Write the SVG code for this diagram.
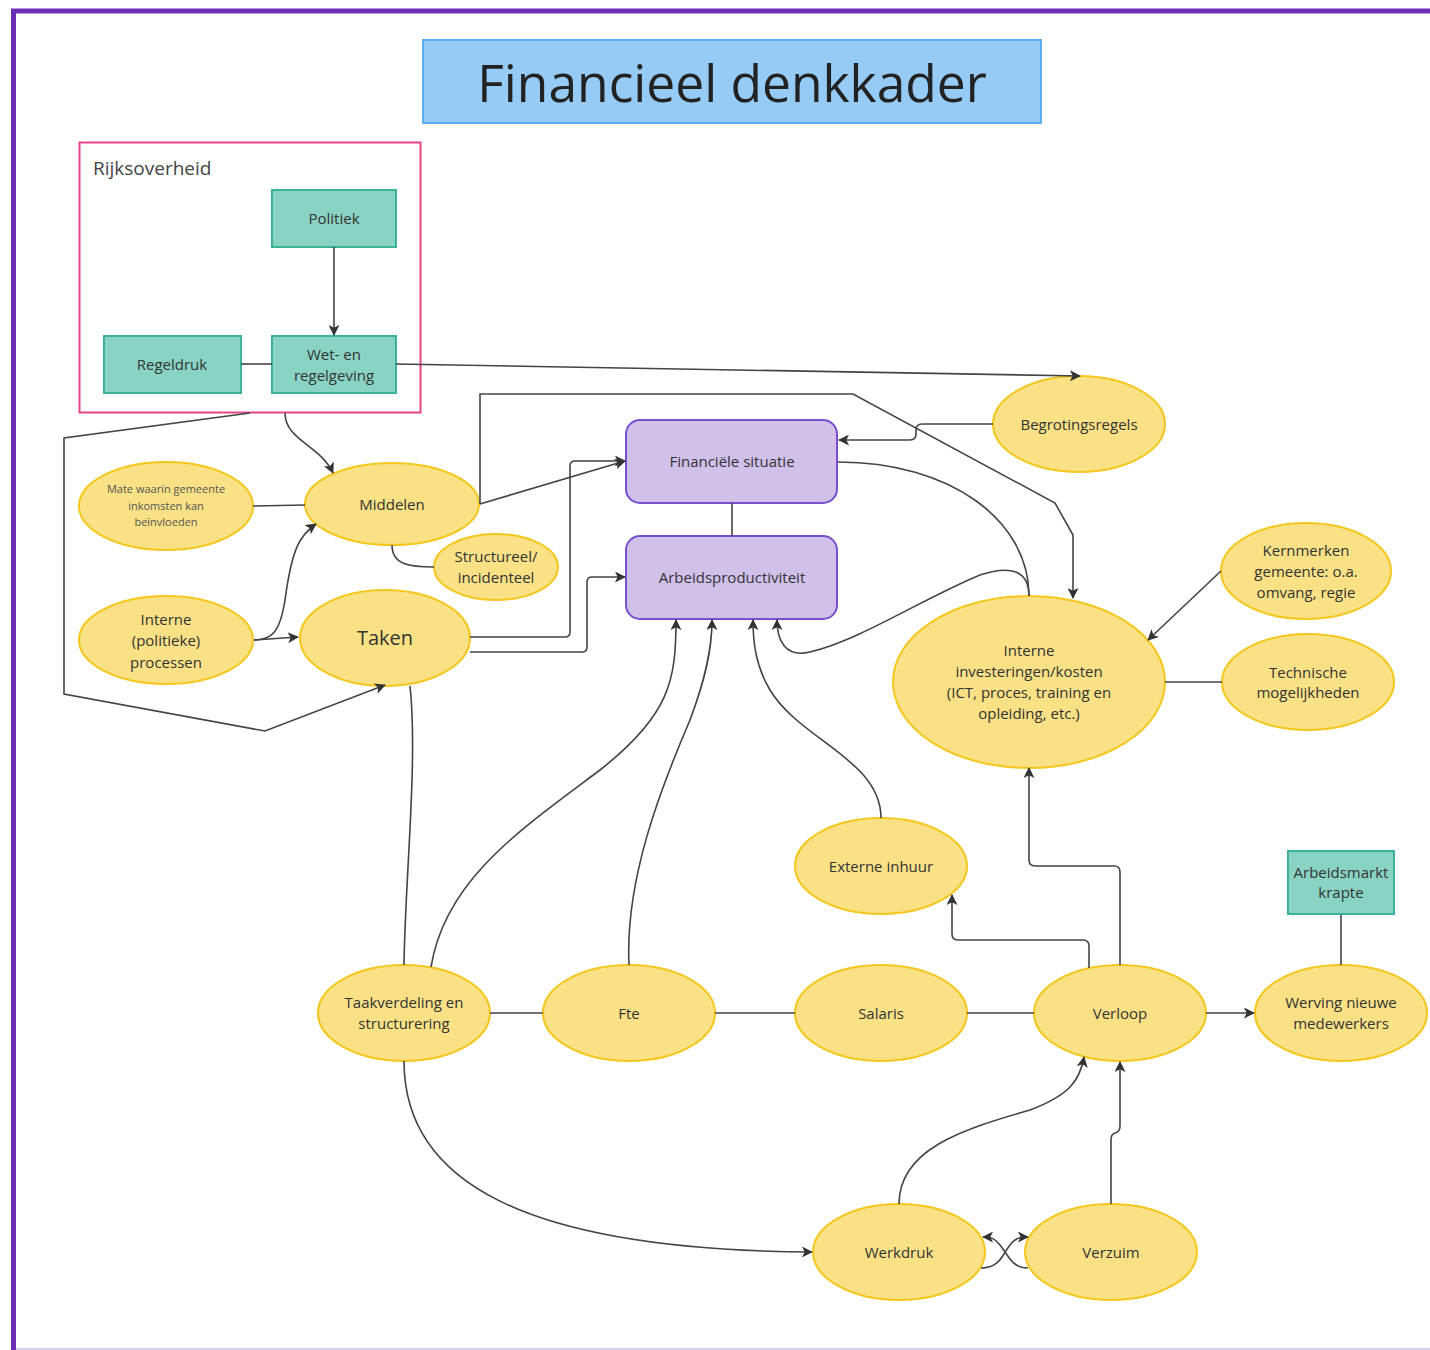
<svg xmlns="http://www.w3.org/2000/svg" width="1430" height="1350" viewBox="0 0 1430 1350">
<defs>
<marker id="arr" viewBox="0 0 12 12" refX="11" refY="6" markerWidth="11" markerHeight="11" markerUnits="userSpaceOnUse" orient="auto">
<path d="M0,0 L12,6 L0,12 L3,6 z" fill="#333"/>
</marker>
<style>
text{font-family:"Open Sans","Noto Sans","Liberation Sans",sans-serif;fill:#333;text-anchor:middle}
.ell{fill:#fae185;stroke:#f5c61b;stroke-width:2}
.teal{fill:#88d3c4;stroke:#3bb39a;stroke-width:2}
.purp{fill:#d1c0ea;stroke:#7a4fcf;stroke-width:2}
.t{font-size:15px}
.c path,.c line,.c polyline{fill:none;stroke:#444;stroke-width:1.6}
.a{marker-end:url(#arr)}
</style>
</defs>
<rect width="1430" height="1350" fill="#fff"/>
<line x1="12" y1="1349" x2="1430" y2="1349" stroke="#d9cdea" stroke-width="2"/>
<path d="M13.5,1350 V11 H1432" fill="none" stroke="#6a2fb5" stroke-width="5"/>

<g id="title">
<rect x="423" y="40" width="618" height="83" fill="#95cbf5" stroke="#5aaef0" stroke-width="2"/>
<text x="732" y="102" style="font-size:51.5px;fill:#222">Financieel denkkader</text>
</g>

<g id="rijksoverheid">
<rect x="79.5" y="142.5" width="341" height="270" fill="#fff" stroke="#e6448a" stroke-width="2"/>
<text x="93" y="175" style="font-size:19px;fill:#444;text-anchor:start">Rijksoverheid</text>
</g>

<g id="politiek"><rect class="teal" x="272" y="190" width="124" height="57"/><text class="t" x="334" y="224">Politiek</text></g>
<g id="wet"><rect class="teal" x="272" y="336" width="124" height="57"/><text class="t" x="334" y="360">Wet- en</text><text class="t" x="334" y="381">regelgeving</text></g>
<g id="regeldruk"><rect class="teal" x="104" y="336" width="137" height="57"/><text class="t" x="172" y="370">Regeldruk</text></g>
<g id="arbeidsmarkt"><rect class="teal" x="1288" y="851" width="106" height="63"/><text class="t" x="1341" y="878">Arbeidsmarkt</text><text class="t" x="1341" y="898">krapte</text></g>

<g id="financiele"><rect class="purp" x="626" y="420" width="211" height="83" rx="14"/><text class="t" x="732" y="467">Financiële situatie</text></g>
<g id="arbeidsprod"><rect class="purp" x="626" y="536" width="211" height="83" rx="14"/><text class="t" x="732" y="583">Arbeidsproductiviteit</text></g>

<g id="mate"><ellipse class="ell" cx="166" cy="506" rx="87" ry="44"/>
<text x="166" y="493" style="font-size:11px;fill:#555">Mate waarin gemeente</text>
<text x="166" y="510" style="font-size:11px;fill:#555">inkomsten kan</text>
<text x="166" y="526" style="font-size:11px;fill:#555">beïnvloeden</text></g>
<g id="middelen"><ellipse class="ell" cx="392" cy="504" rx="87" ry="41"/><text class="t" x="392" y="510">Middelen</text></g>
<g id="structureel"><ellipse class="ell" cx="496" cy="567" rx="62" ry="33"/><text class="t" x="496" y="562">Structureel/</text><text class="t" x="496" y="583">incidenteel</text></g>
<g id="interneproc"><ellipse class="ell" cx="166" cy="640" rx="87" ry="44"/><text class="t" x="166" y="625">Interne</text><text class="t" x="166" y="646">(politieke)</text><text class="t" x="166" y="668">processen</text></g>
<g id="taken"><ellipse class="ell" cx="385" cy="638" rx="85" ry="48"/><text x="385" y="645" style="font-size:20px">Taken</text></g>
<g id="begroting"><ellipse class="ell" cx="1079" cy="424" rx="86" ry="48"/><text class="t" x="1079" y="430">Begrotingsregels</text></g>
<g id="kernmerken"><ellipse class="ell" cx="1306" cy="571" rx="85" ry="48"/><text class="t" x="1306" y="556">Kernmerken</text><text class="t" x="1306" y="577">gemeente: o.a.</text><text class="t" x="1306" y="598">omvang, regie</text></g>
<g id="technische"><ellipse class="ell" cx="1308" cy="682" rx="86" ry="48"/><text class="t" x="1308" y="678">Technische</text><text class="t" x="1308" y="698">mogelijkheden</text></g>
<g id="interneinv"><ellipse class="ell" cx="1029" cy="682" rx="136" ry="86"/>
<text class="t" x="1029" y="656">Interne</text><text class="t" x="1029" y="677">investeringen/kosten</text><text class="t" x="1029" y="698">(ICT, proces, training en</text><text class="t" x="1029" y="719">opleiding, etc.)</text></g>
<g id="externe"><ellipse class="ell" cx="881" cy="866" rx="86" ry="48"/><text class="t" x="881" y="872">Externe inhuur</text></g>
<g id="taakverdeling"><ellipse class="ell" cx="404" cy="1013" rx="86" ry="48"/><text class="t" x="404" y="1008">Taakverdeling en</text><text class="t" x="404" y="1029">structurering</text></g>
<g id="fte"><ellipse class="ell" cx="629" cy="1013" rx="86" ry="48"/><text class="t" x="629" y="1019">Fte</text></g>
<g id="salaris"><ellipse class="ell" cx="881" cy="1013" rx="86" ry="48"/><text class="t" x="881" y="1019">Salaris</text></g>
<g id="verloop"><ellipse class="ell" cx="1120" cy="1013" rx="86" ry="48"/><text class="t" x="1120" y="1019">Verloop</text></g>
<g id="werving"><ellipse class="ell" cx="1341" cy="1013" rx="86" ry="48"/><text class="t" x="1341" y="1008">Werving nieuwe</text><text class="t" x="1341" y="1029">medewerkers</text></g>
<g id="werkdruk"><ellipse class="ell" cx="899" cy="1252" rx="86" ry="48"/><text class="t" x="899" y="1258">Werkdruk</text></g>
<g id="verzuim"><ellipse class="ell" cx="1111" cy="1252" rx="86" ry="48"/><text class="t" x="1111" y="1258">Verzuim</text></g>

<g class="c" id="connectors">
<line class="a" x1="334" y1="247" x2="334" y2="335"/>
<line x1="241" y1="364" x2="272" y2="364"/>
<line class="a" x1="396" y1="364" x2="1080" y2="376"/>
<path class="a" d="M993,424 H922 Q916,424 916,430 V434 Q916,440 910,440 H839"/>
<path class="a" d="M285,413 C285,440 320,445 333,473"/>
<polyline class="a" points="250,413 64,438 64,694 265,731 385,685"/>
<line class="a" x1="480" y1="504" x2="625" y2="461"/>
<polyline class="a" points="480,504 480,394 853,394 1055,503 1073,535 1073,598"/>
<path d="M253,506 L305,505"/>
<path class="a" d="M254,640 C272,640 280,632 285,600 C292,548 300,535 316,524"/>
<line class="a" x1="254" y1="640" x2="298" y2="637"/>
<path class="a" d="M470,637 H565 Q570,637 570,632 V466 Q570,461 575,461 H625"/>
<path class="a" d="M470,652 H582 Q587,652 587,647 V582 Q587,577 592,577 H625"/>
<path d="M392,545 C392,565 410,567 434,567"/>
<line x1="732" y1="503" x2="732" y2="536"/>
<path d="M838,462 C950,462 1029,520 1029,596"/>
<path class="a" d="M1029,596 C1029,570 1010,565 980,575 C920,600 860,640 810,652 C785,658 777,640 777,620"/>
<path class="a" d="M1221,571 L1148,640"/>
<line x1="1165" y1="682" x2="1222" y2="682"/>
<path class="a" d="M431,967 C445,880 520,830 600,770 C670,715 676,680 676,620"/>
<path class="a" d="M629,965 C625,880 660,790 690,720 C705,680 712,650 712,620"/>
<path class="a" d="M881,818 C881,760 800,740 770,690 C755,665 753,640 753,620"/>
<path d="M410,686 C418,760 405,880 404,965"/>
<line x1="490" y1="1013" x2="543" y2="1013"/>
<line x1="715" y1="1013" x2="795" y2="1013"/>
<line x1="967" y1="1013" x2="1034" y2="1013"/>
<line class="a" x1="1206" y1="1013" x2="1254" y2="1013"/>
<line x1="1341" y1="915" x2="1341" y2="965"/>
<path class="a" d="M1089,968 V946 Q1089,940 1083,940 H958 Q952,940 952,934 V895"/>
<path class="a" d="M1120,965 V872 Q1120,866 1114,866 H1035 Q1029,866 1029,860 V768"/>
<path class="a" d="M404,1061 C404,1180 520,1250 812,1252"/>
<path class="a" d="M899,1204 C899,1150 960,1130 1030,1110 C1070,1095 1080,1080 1084,1057"/>
<path class="a" d="M1111,1204 V1140 Q1111,1134 1115,1133 Q1120,1132 1120,1126 V1062"/>
<path class="a" d="M981,1268 C1000,1268 1002,1255 1010,1245 C1015,1238 1020,1237 1028,1237"/>
<path class="a" d="M1028,1268 C1012,1268 1008,1255 1000,1245 C995,1238 990,1237 983,1237"/>
</g>
</svg>
